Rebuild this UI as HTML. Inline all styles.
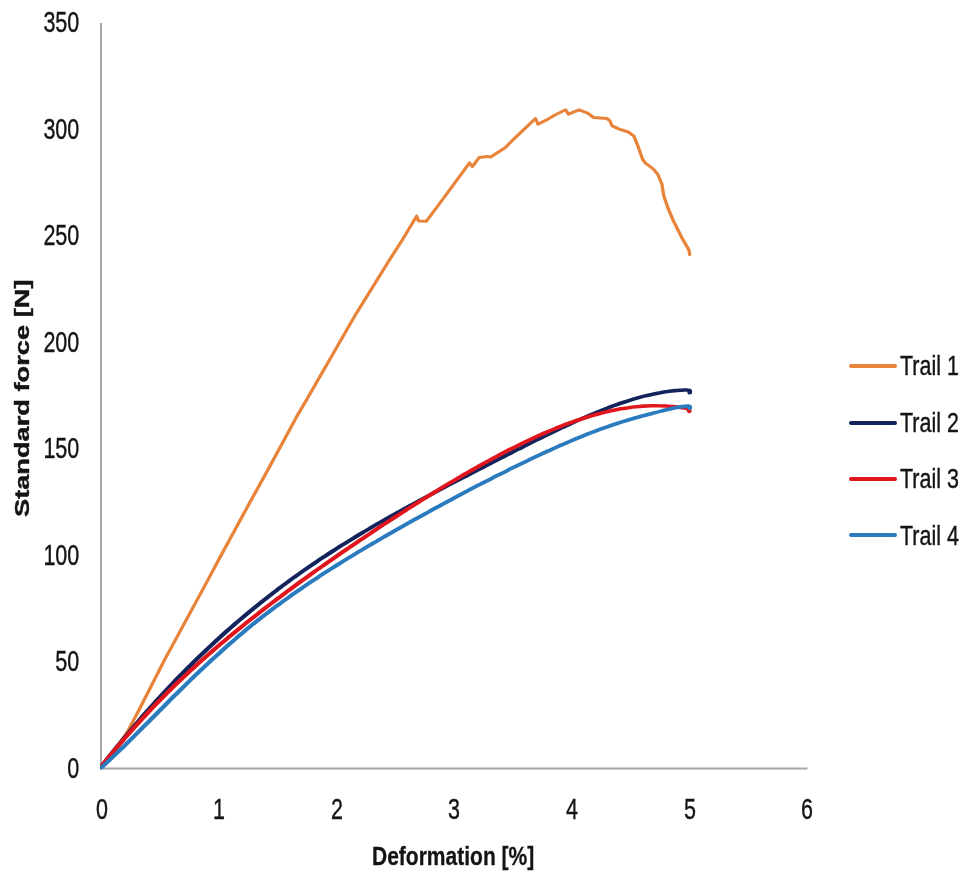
<!DOCTYPE html>
<html><head><meta charset="utf-8"><title>Chart</title>
<style>
html,body{margin:0;padding:0;background:#fff;}
body{width:968px;height:883px;position:relative;overflow:hidden;font-family:"Liberation Sans",sans-serif;color:#141414;}
svg{position:absolute;left:0;top:0;}
#c{position:absolute;left:0;top:0;width:968px;height:883px;filter:blur(0.4px);}
.yl,.xl,.lt{-webkit-text-stroke:0.4px #141414;}
.yl{position:absolute;left:0;width:79.3px;text-align:right;font-size:30px;line-height:30px;height:30px;transform:scaleX(0.717);transform-origin:100% 50%;white-space:nowrap;}
.xl{position:absolute;top:793.9px;width:60px;text-align:center;font-size:30px;line-height:30px;height:30px;transform:scaleX(0.717);transform-origin:50% 50%;}
.ll{position:absolute;left:848.5px;width:48.5px;height:4px;border-radius:2px;}
.lt{position:absolute;left:900px;font-size:27.7px;line-height:30px;height:30px;white-space:nowrap;transform:scaleX(0.775);transform-origin:0 50%;}
.xt{-webkit-text-stroke:0.3px #141414;position:absolute;left:371.9px;top:840.8px;font-weight:bold;font-size:26px;line-height:30px;height:30px;white-space:nowrap;transform:scaleX(0.808);transform-origin:0 50%;}
.yt{-webkit-text-stroke:0.4px #141414;position:absolute;left:7.3px;top:517.2px;font-weight:bold;font-size:19.5px;line-height:30px;height:30px;white-space:nowrap;transform:rotate(-90deg) scaleX(1.396);transform-origin:0 0;}
</style></head><body>
<div id="c">
<svg width="968" height="883" viewBox="0 0 968 883">
<rect x="100" y="23" width="2" height="746.5" fill="#a6a6a6"/>
<rect x="100" y="767.5" width="707.5" height="2" fill="#a6a6a6"/>
<defs><clipPath id="cp"><rect x="100" y="0" width="868" height="769.5"/></clipPath></defs>
<g clip-path="url(#cp)"><g fill="none" stroke-linejoin="round" stroke-linecap="round" transform="scale(1.3,1)">
<path d="M91.82,767.0 L98.18,758.5 L103.64,750.5 L109.55,742.0 L115.82,731.9 L126.36,710.0 L149.73,659.6 L188.82,580.3 L198.45,560.5 L227.36,502.0 L245.45,466.0 L269.36,417.3 L279.27,398.8 L321.91,317.1 L354.18,259.8 L365.73,240.0 L378.73,216.1 L380.45,220.9 L387.45,221.3 L398.00,206.0 L426.82,162.8 L429.45,166.6 L435.64,157.4 L443.45,156.4 L446.09,157.0 L459.18,147.8 L468.00,138.1 L486.82,118.5 L489.09,124.2 L496.00,120.4 L504.55,115.0 L514.18,109.8 L516.82,114.1 L526.45,109.8 L534.36,113.1 L539.55,117.5 L551.82,118.5 L554.45,120.8 L556.18,125.6 L562.36,128.9 L571.09,132.0 L576.36,136.2 L579.82,145.8 L584.18,159.3 L586.82,163.2 L593.82,168.9 L598.18,174.7 L601.73,184.3 L603.45,195.9 L607.00,207.4 L612.18,220.9 L620.09,238.2 L626.18,249.8 L627.09,254.6" stroke="#e8833a" stroke-width="3" transform="scale(0.8461538461538461,1)"/>
<path d="M77.69,767.1 C78.65,765.5 81.52,760.7 83.43,757.5 C85.34,754.4 87.25,751.3 89.16,748.2 C91.07,745.1 92.99,742.1 94.90,739.1 C96.81,736.1 98.72,733.1 100.63,730.1 C102.54,727.2 104.46,724.3 106.37,721.4 C108.28,718.5 110.19,715.6 112.10,712.8 C114.01,710.0 115.93,707.2 117.84,704.4 C119.75,701.7 121.66,698.9 123.57,696.2 C125.49,693.5 127.40,690.9 129.31,688.2 C131.22,685.6 133.13,683.0 135.04,680.4 C136.96,677.8 138.87,675.3 140.78,672.7 C142.69,670.2 144.60,667.7 146.51,665.3 C148.43,662.8 150.34,660.4 152.25,657.9 C154.16,655.5 156.07,653.2 157.98,650.8 C159.90,648.4 161.81,646.1 163.72,643.8 C165.63,641.5 167.54,639.2 169.45,637.0 C171.37,634.7 173.28,632.5 175.19,630.3 C177.10,628.1 179.01,626.0 180.93,623.8 C182.84,621.7 184.75,619.6 186.66,617.5 C188.57,615.4 190.48,613.3 192.40,611.2 C194.31,609.2 196.22,607.2 198.13,605.2 C200.04,603.2 201.95,601.2 203.87,599.2 C205.78,597.3 207.69,595.4 209.60,593.4 C211.51,591.5 213.42,589.7 215.34,587.8 C217.25,585.9 219.16,584.1 221.07,582.3 C222.98,580.4 224.89,578.6 226.81,576.8 C228.72,575.1 230.63,573.3 232.54,571.5 C234.45,569.8 236.36,568.1 238.28,566.4 C240.19,564.7 242.10,563.0 244.01,561.3 C245.92,559.6 247.84,558.0 249.75,556.4 C251.66,554.7 253.57,553.1 255.48,551.5 C257.39,549.9 259.31,548.3 261.22,546.7 C263.13,545.2 265.04,543.6 266.95,542.1 C268.86,540.5 270.78,539.0 272.69,537.5 C274.60,536.0 276.51,534.5 278.42,533.0 C280.33,531.5 282.25,530.0 284.16,528.6 C286.07,527.1 287.98,525.7 289.89,524.2 C291.80,522.8 293.72,521.4 295.63,520.0 C297.54,518.5 299.45,517.1 301.36,515.7 C303.27,514.3 305.19,513.0 307.10,511.6 C309.01,510.2 310.92,508.8 312.83,507.5 C314.75,506.1 316.66,504.8 318.57,503.4 C320.48,502.1 322.39,500.7 324.30,499.4 C326.22,498.1 328.13,496.8 330.04,495.4 C331.95,494.1 333.86,492.8 335.77,491.5 C337.69,490.2 339.60,488.9 341.51,487.6 C343.42,486.2 345.33,484.9 347.24,483.6 C349.16,482.3 351.07,481.1 352.98,479.8 C354.89,478.5 356.80,477.2 358.71,475.9 C360.63,474.6 362.54,473.3 364.45,472.0 C366.36,470.7 368.27,469.4 370.19,468.2 C372.10,466.9 374.01,465.6 375.92,464.3 C377.83,463.0 379.74,461.8 381.66,460.5 C383.57,459.2 385.48,457.9 387.39,456.7 C389.30,455.4 391.21,454.1 393.13,452.9 C395.04,451.6 396.95,450.3 398.86,449.1 C400.77,447.8 402.68,446.6 404.60,445.3 C406.51,444.1 408.42,442.8 410.33,441.6 C412.24,440.4 414.15,439.1 416.07,437.9 C417.98,436.7 419.89,435.5 421.80,434.3 C423.71,433.0 425.62,431.8 427.54,430.7 C429.45,429.5 431.36,428.3 433.27,427.1 C435.18,426.0 437.10,424.8 439.01,423.7 C440.92,422.5 442.83,421.4 444.74,420.3 C446.65,419.2 448.57,418.1 450.48,417.0 C452.39,415.9 454.30,414.9 456.21,413.8 C458.12,412.8 460.04,411.8 461.95,410.8 C463.86,409.8 465.77,408.8 467.68,407.9 C469.59,406.9 471.51,406.0 473.42,405.1 C475.33,404.2 477.24,403.3 479.15,402.5 C481.06,401.7 482.98,400.9 484.89,400.1 C486.80,399.3 488.71,398.6 490.62,397.9 C492.53,397.2 494.45,396.5 496.36,395.9 C498.27,395.3 500.18,394.7 502.09,394.2 C504.01,393.6 505.92,393.1 507.83,392.7 C509.74,392.2 511.65,391.8 513.56,391.5 C515.48,391.1 517.39,390.8 519.30,390.6 C521.21,390.4 523.22,390.1 525.03,390.1 C526.84,390.0 529.24,389.8 530.15,390.3 C531.07,390.8 530.47,392.4 530.54,392.8" stroke="#13245c" stroke-width="3.6"/>
<path d="M77.69,767.1 C78.64,765.5 81.50,760.8 83.41,757.8 C85.31,754.7 87.22,751.7 89.12,748.8 C91.03,745.8 92.93,742.9 94.84,740.0 C96.74,737.1 98.65,734.3 100.56,731.5 C102.46,728.7 104.37,725.9 106.27,723.2 C108.18,720.5 110.08,717.8 111.99,715.1 C113.89,712.5 115.80,709.9 117.70,707.3 C119.61,704.7 121.51,702.2 123.42,699.7 C125.32,697.1 127.23,694.7 129.13,692.2 C131.04,689.8 132.94,687.3 134.85,684.9 C136.75,682.5 138.66,680.2 140.56,677.8 C142.47,675.5 144.38,673.2 146.28,670.9 C148.19,668.6 150.09,666.4 152.00,664.1 C153.90,661.9 155.81,659.7 157.71,657.5 C159.62,655.3 161.52,653.1 163.43,651.0 C165.33,648.9 167.24,646.7 169.14,644.6 C171.05,642.5 172.95,640.4 174.86,638.4 C176.76,636.3 178.67,634.3 180.57,632.2 C182.48,630.2 184.38,628.2 186.29,626.2 C188.20,624.2 190.10,622.2 192.01,620.3 C193.91,618.3 195.82,616.3 197.72,614.4 C199.63,612.5 201.53,610.5 203.44,608.6 C205.34,606.7 207.25,604.8 209.15,603.0 C211.06,601.1 212.96,599.2 214.87,597.4 C216.77,595.5 218.68,593.7 220.58,591.8 C222.49,590.0 224.39,588.2 226.30,586.4 C228.21,584.5 230.11,582.7 232.02,580.9 C233.92,579.2 235.83,577.4 237.73,575.6 C239.64,573.8 241.54,572.1 243.45,570.3 C245.35,568.5 247.26,566.8 249.16,565.1 C251.07,563.3 252.97,561.6 254.88,559.9 C256.78,558.1 258.69,556.4 260.59,554.7 C262.50,553.0 264.40,551.3 266.31,549.6 C268.21,547.9 270.12,546.2 272.03,544.6 C273.93,542.9 275.84,541.2 277.74,539.5 C279.65,537.9 281.55,536.2 283.46,534.6 C285.36,532.9 287.27,531.3 289.17,529.6 C291.08,528.0 292.98,526.4 294.89,524.7 C296.79,523.1 298.70,521.5 300.60,519.9 C302.51,518.3 304.41,516.7 306.32,515.1 C308.22,513.5 310.13,511.9 312.04,510.3 C313.94,508.7 315.85,507.2 317.75,505.6 C319.66,504.0 321.56,502.5 323.47,500.9 C325.37,499.4 327.28,497.8 329.18,496.3 C331.09,494.8 332.99,493.2 334.90,491.7 C336.80,490.2 338.71,488.7 340.61,487.2 C342.52,485.7 344.42,484.2 346.33,482.7 C348.23,481.3 350.14,479.8 352.04,478.3 C353.95,476.9 355.86,475.4 357.76,474.0 C359.67,472.6 361.57,471.1 363.48,469.7 C365.38,468.3 367.29,466.9 369.19,465.5 C371.10,464.2 373.00,462.8 374.91,461.4 C376.81,460.1 378.72,458.7 380.62,457.4 C382.53,456.1 384.43,454.7 386.34,453.4 C388.24,452.2 390.15,450.9 392.05,449.6 C393.96,448.3 395.86,447.1 397.77,445.9 C399.68,444.6 401.58,443.4 403.49,442.2 C405.39,441.0 407.30,439.9 409.20,438.7 C411.11,437.6 413.01,436.4 414.92,435.3 C416.82,434.2 418.73,433.1 420.63,432.1 C422.54,431.0 424.44,430.0 426.35,429.0 C428.25,427.9 430.16,426.9 432.06,426.0 C433.97,425.0 435.87,424.1 437.78,423.2 C439.69,422.3 441.59,421.4 443.50,420.5 C445.40,419.7 447.31,418.9 449.21,418.1 C451.12,417.3 453.02,416.5 454.93,415.8 C456.83,415.1 458.74,414.4 460.64,413.7 C462.55,413.1 464.45,412.5 466.36,411.9 C468.26,411.3 470.17,410.8 472.07,410.2 C473.98,409.7 475.88,409.3 477.79,408.8 C479.69,408.4 481.60,408.0 483.51,407.7 C485.41,407.3 487.32,407.0 489.22,406.8 C491.13,406.5 493.03,406.3 494.94,406.1 C496.84,406.0 498.75,405.9 500.65,405.8 C502.56,405.7 504.46,405.7 506.37,405.8 C508.27,405.8 510.18,405.9 512.08,406.0 C513.99,406.2 515.89,406.3 517.80,406.6 C519.70,406.9 521.61,407.2 523.52,407.5 C525.42,407.9 528.11,408.2 529.23,408.8 C530.35,409.4 530.06,410.9 530.23,411.3" stroke="#e0161c" stroke-width="3.6"/>
<path d="M77.69,768.0 C78.65,766.8 81.52,763.4 83.43,761.1 C85.34,758.8 87.25,756.4 89.16,754.0 C91.07,751.6 92.99,749.2 94.90,746.8 C96.81,744.4 98.72,741.9 100.63,739.5 C102.54,737.0 104.46,734.5 106.37,732.0 C108.28,729.5 110.19,727.0 112.10,724.6 C114.01,722.1 115.93,719.6 117.84,717.1 C119.75,714.6 121.66,712.0 123.57,709.6 C125.49,707.1 127.40,704.6 129.31,702.1 C131.22,699.6 133.13,697.1 135.04,694.7 C136.96,692.2 138.87,689.7 140.78,687.3 C142.69,684.9 144.60,682.5 146.51,680.0 C148.43,677.6 150.34,675.3 152.25,672.9 C154.16,670.5 156.07,668.2 157.98,665.8 C159.90,663.5 161.81,661.2 163.72,658.9 C165.63,656.7 167.54,654.4 169.45,652.2 C171.37,649.9 173.28,647.7 175.19,645.5 C177.10,643.4 179.01,641.2 180.93,639.1 C182.84,636.9 184.75,634.8 186.66,632.8 C188.57,630.7 190.48,628.6 192.40,626.6 C194.31,624.6 196.22,622.6 198.13,620.6 C200.04,618.7 201.95,616.7 203.87,614.8 C205.78,612.9 207.69,611.0 209.60,609.1 C211.51,607.2 213.42,605.4 215.34,603.6 C217.25,601.7 219.16,600.0 221.07,598.2 C222.98,596.4 224.89,594.6 226.81,592.9 C228.72,591.2 230.63,589.5 232.54,587.8 C234.45,586.1 236.36,584.4 238.28,582.7 C240.19,581.0 242.10,579.4 244.01,577.8 C245.92,576.1 247.84,574.5 249.75,572.9 C251.66,571.3 253.57,569.7 255.48,568.2 C257.39,566.6 259.31,565.0 261.22,563.5 C263.13,561.9 265.04,560.4 266.95,558.9 C268.86,557.4 270.78,555.8 272.69,554.3 C274.60,552.8 276.51,551.3 278.42,549.9 C280.33,548.4 282.25,546.9 284.16,545.4 C286.07,544.0 287.98,542.5 289.89,541.1 C291.80,539.6 293.72,538.2 295.63,536.7 C297.54,535.3 299.45,533.9 301.36,532.5 C303.27,531.0 305.19,529.6 307.10,528.2 C309.01,526.8 310.92,525.4 312.83,524.0 C314.75,522.6 316.66,521.2 318.57,519.8 C320.48,518.5 322.39,517.1 324.30,515.7 C326.22,514.3 328.13,513.0 330.04,511.6 C331.95,510.2 333.86,508.9 335.77,507.5 C337.69,506.2 339.60,504.8 341.51,503.5 C343.42,502.1 345.33,500.8 347.24,499.5 C349.16,498.1 351.07,496.8 352.98,495.5 C354.89,494.2 356.80,492.9 358.71,491.6 C360.63,490.2 362.54,488.9 364.45,487.6 C366.36,486.3 368.27,485.0 370.19,483.8 C372.10,482.5 374.01,481.2 375.92,479.9 C377.83,478.6 379.74,477.4 381.66,476.1 C383.57,474.9 385.48,473.6 387.39,472.4 C389.30,471.1 391.21,469.9 393.13,468.6 C395.04,467.4 396.95,466.2 398.86,465.0 C400.77,463.8 402.68,462.6 404.60,461.4 C406.51,460.2 408.42,459.0 410.33,457.8 C412.24,456.6 414.15,455.5 416.07,454.3 C417.98,453.1 419.89,452.0 421.80,450.9 C423.71,449.7 425.62,448.6 427.54,447.5 C429.45,446.4 431.36,445.3 433.27,444.2 C435.18,443.1 437.10,442.1 439.01,441.0 C440.92,440.0 442.83,438.9 444.74,437.9 C446.65,436.9 448.57,435.9 450.48,434.9 C452.39,433.9 454.30,433.0 456.21,432.0 C458.12,431.1 460.04,430.1 461.95,429.2 C463.86,428.3 465.77,427.4 467.68,426.6 C469.59,425.7 471.51,424.8 473.42,424.0 C475.33,423.2 477.24,422.4 479.15,421.6 C481.06,420.8 482.98,420.1 484.89,419.4 C486.80,418.6 488.71,417.9 490.62,417.3 C492.53,416.6 494.45,415.9 496.36,415.3 C498.27,414.6 500.18,414.0 502.09,413.3 C504.01,412.7 505.92,412.0 507.83,411.4 C509.74,410.7 511.65,410.1 513.56,409.5 C515.48,408.9 517.39,408.3 519.30,407.8 C521.21,407.3 523.22,406.9 525.03,406.6 C526.84,406.4 529.24,405.9 530.15,406.2 C531.07,406.5 530.47,407.9 530.54,408.3" stroke="#2b7bbf" stroke-width="3.6"/>
</g></g>
</svg>
<div class="yl" style="top:752.8px">0</div>
<div class="yl" style="top:646.3px">50</div>
<div class="yl" style="top:539.8px">100</div>
<div class="yl" style="top:433.3px">150</div>
<div class="yl" style="top:326.8px">200</div>
<div class="yl" style="top:220.3px">250</div>
<div class="yl" style="top:113.8px">300</div>
<div class="yl" style="top:7.3px">350</div>
<div class="xl" style="left:71.5px">0</div>
<div class="xl" style="left:189.1px">1</div>
<div class="xl" style="left:306.7px">2</div>
<div class="xl" style="left:424.3px">3</div>
<div class="xl" style="left:541.9px">4</div>
<div class="xl" style="left:659.5px">5</div>
<div class="xl" style="left:777.1px">6</div>
<div class="ll" style="top:364.1px;background:#e8833a"></div><div class="lt" style="top:351.3px">Trail 1</div>
<div class="ll" style="top:420.5px;background:#13245c"></div><div class="lt" style="top:407.7px">Trail 2</div>
<div class="ll" style="top:476.9px;background:#e0161c"></div><div class="lt" style="top:464.1px">Trail 3</div>
<div class="ll" style="top:533.3px;background:#2b7bbf"></div><div class="lt" style="top:520.5px">Trail 4</div>

<div class="xt">Deformation [%]</div>
<div class="yt">Standard force [N]</div>
</div>
</body></html>
